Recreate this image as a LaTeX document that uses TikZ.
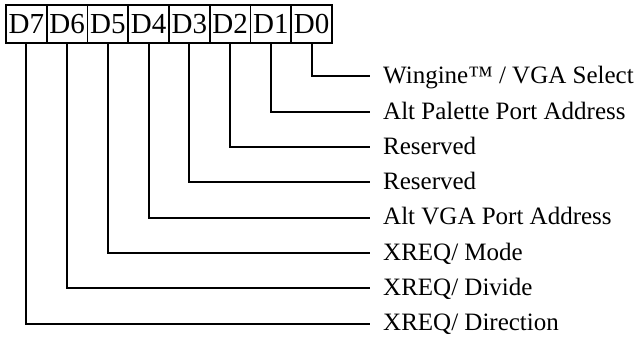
\documentclass[tikz,border=0pt]{standalone}
\usepackage{fontspec}
\setmainfont{Liberation Serif}
\usetikzlibrary{positioning}
\definecolor{regline}{RGB}{0,0,0}
\definecolor{regtext}{RGB}{0,0,0}

\begin{document}
\begin{tikzpicture}[x=1pt, y=1pt,
    bitcell/.style={draw=regline, line width=1.8pt, minimum width=40.75pt, minimum height=38pt,
                    inner sep=0pt, outer sep=0pt, text=regtext, font=\fontsize{29}{32}\selectfont},
    bitlabel/.style={anchor=west, inner sep=0pt, text height=14.5pt, text depth=0pt,
                     text=regtext, font=\fontsize{25}{30}\selectfont},
    bitwire/.style={draw=regline, line width=2pt}]
    \useasboundingbox (0,0) rectangle (641,337);
    % register cells D7 .. D0
    \node[bitcell, anchor=north west] (d7) at (6,332) {D7};
    \foreach \b [remember=\b as \prev (initially 7)] in {6,5,...,0}
        \node[bitcell, right=0pt of d\prev] (d\b) {D\b};
    % bit meanings
    \foreach \b/\txt in {0/{Wingine™ / VGA Select}, 1/{Alt Palette Port Address},
                         2/{Reserved}, 3/{Reserved}, 4/{Alt VGA Port Address},
                         5/{XREQ/ Mode}, 6/{XREQ/ Divide}, 7/{XREQ/ Direction}} {
        \node[bitlabel] (lab\b) at (383, 260.5-35.3*\b) {\txt};
        \draw[bitwire] (d\b.south) |- ([xshift=-13pt]lab\b.west);
    }
\end{tikzpicture}
\end{document}
